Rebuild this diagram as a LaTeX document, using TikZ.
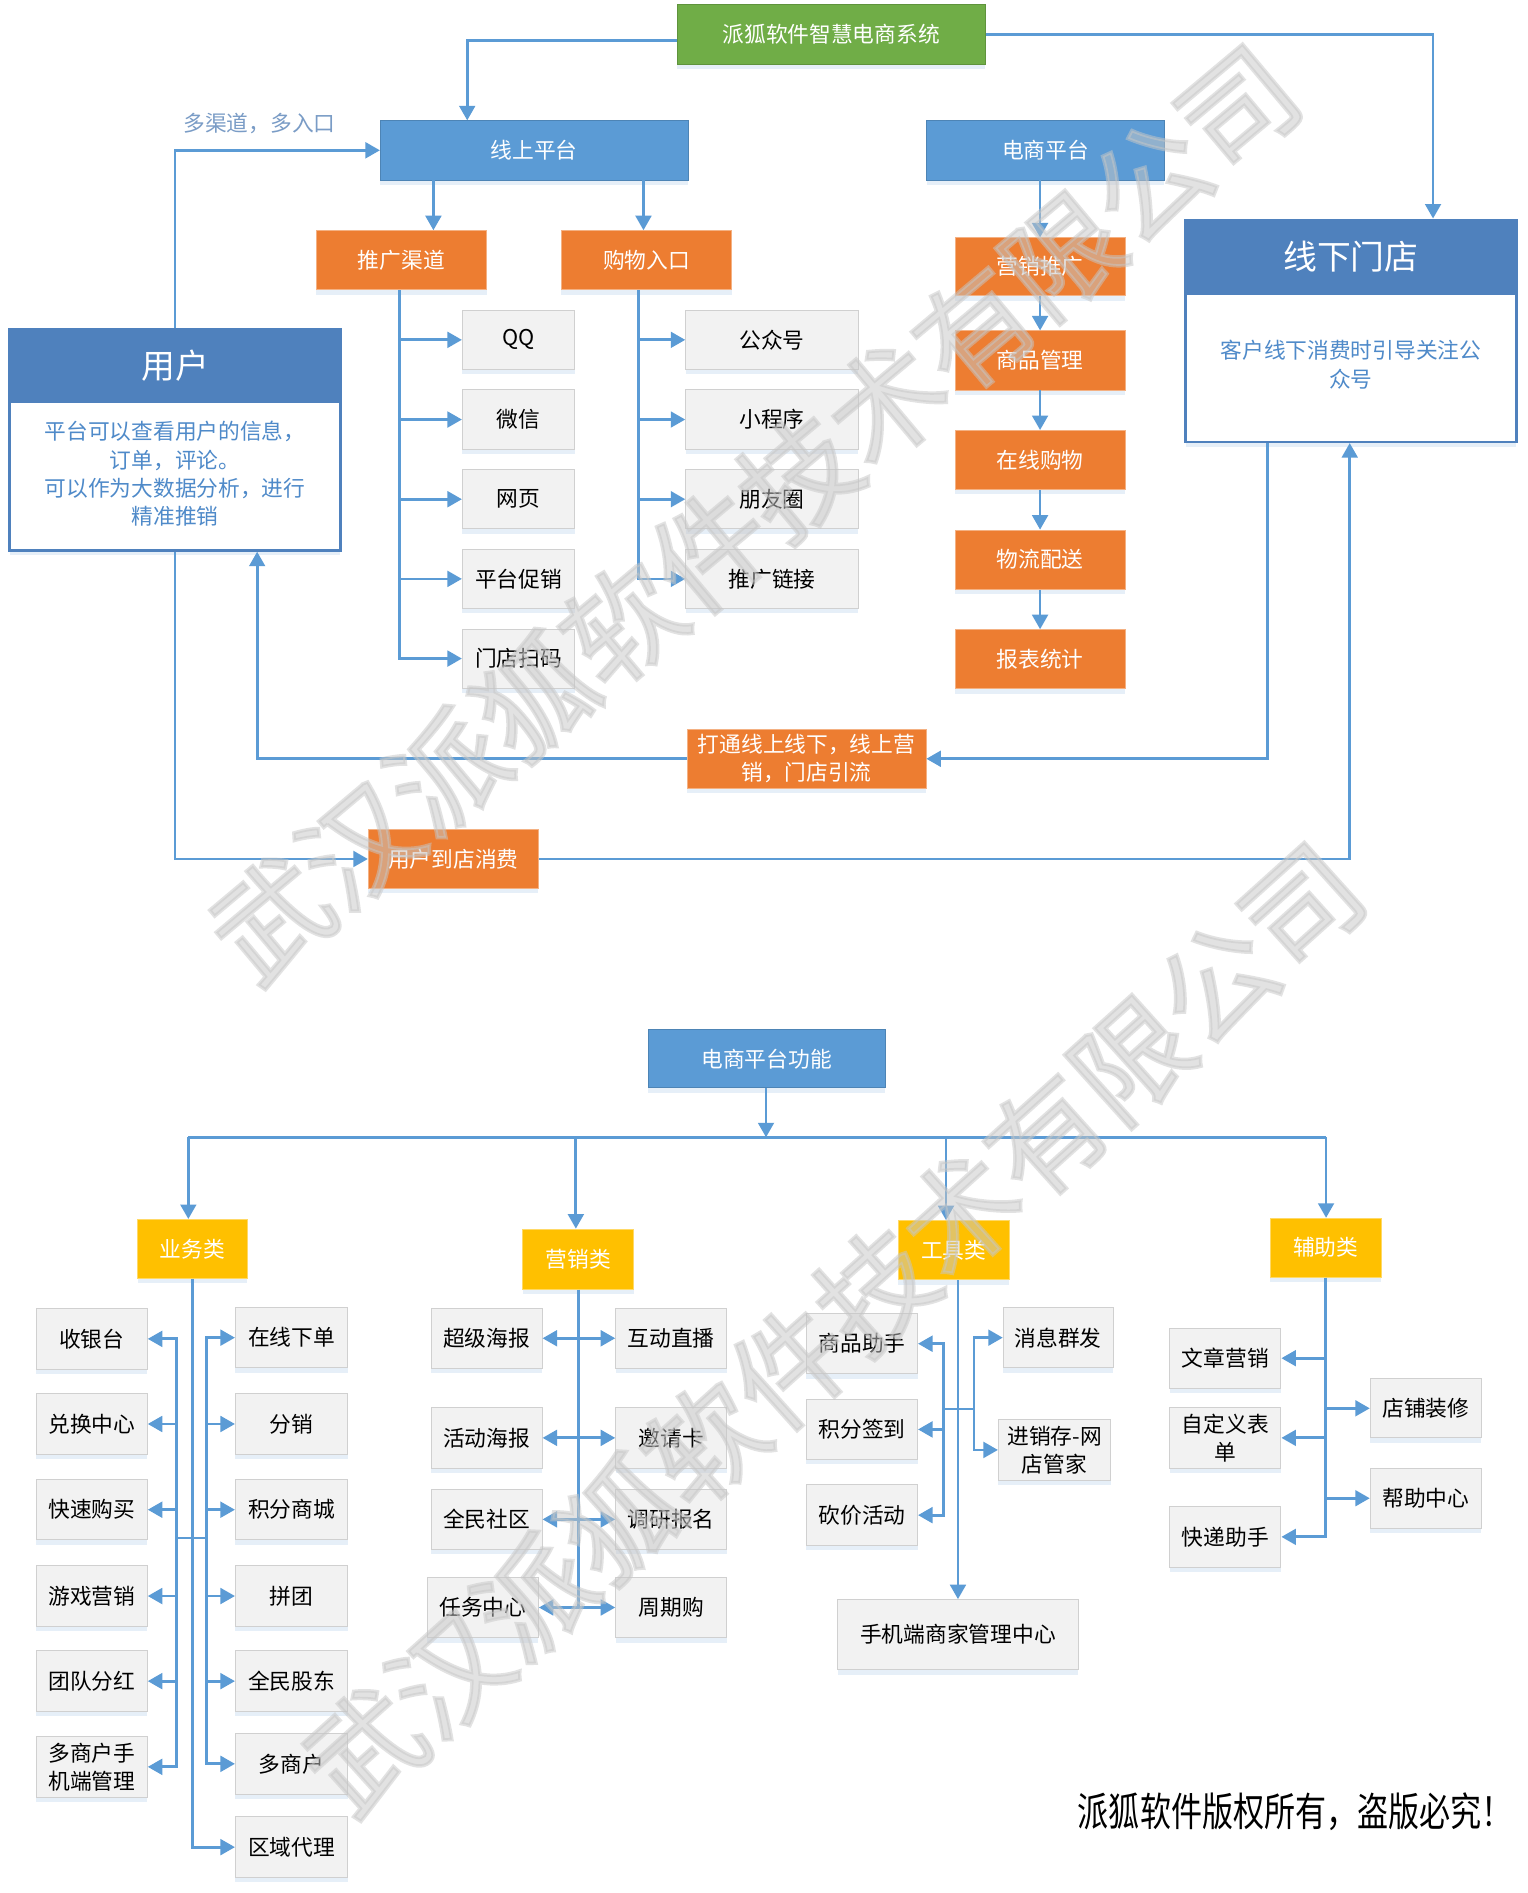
\documentclass[tikz,border=0pt]{standalone}
\usepackage{fontspec}
\setmainfont{Noto Sans CJK SC}
\newfontfamily\wmfont[FakeBold=3]{Noto Sans CJK SC}
\usetikzlibrary{arrows.meta,shadows,calc}
\definecolor{lineblue}{HTML}{5B9BD5}
\definecolor{boxblue}{HTML}{5B9BD5}
\definecolor{hdrblue}{HTML}{4F81BD}
\definecolor{txtblue}{HTML}{4F8AC9}
\definecolor{boxgreen}{HTML}{70AD47}
\definecolor{boxorange}{HTML}{ED7D31}
\definecolor{boxyellow}{HTML}{FFC000}
\definecolor{boxgray}{HTML}{F2F2F2}
\definecolor{bordergray}{HTML}{D0D0D0}
\definecolor{lblgray}{HTML}{7A9CC6}
\tikzset{
  wh/.style 2 args={minimum width=#1pt,minimum height=#2pt},
  shad/.style={drop shadow={shadow xshift=0pt,shadow yshift=-4pt,opacity=0.25,fill=lineblue!60}},
  base/.style={inner sep=0pt,align=center,font=\fontsize{18}{23}\selectfont,shad},
  bluebox/.style={base,fill=boxblue,text=white,draw=boxblue!85!black,line width=0.6pt},
  greenbox/.style={base,fill=boxgreen,text=white,draw=boxgreen!85!black,line width=0.6pt},
  orangebox/.style={base,fill=boxorange,text=white,draw=boxorange!60!white,line width=0.6pt},
  yellowbox/.style={base,fill=boxyellow,text=white,draw=boxyellow!60!white,line width=0.6pt},
  graybox/.style={base,fill=boxgray,text=black,draw=bordergray,line width=0.8pt},
  panel/.style={inner sep=0pt,fill=white,draw=hdrblue,line width=2pt,shad},
  hdr/.style={inner sep=0pt,fill=hdrblue,draw=hdrblue,line width=2pt,text=white,font=\fontsize{28}{32}\selectfont},
  bodytxt/.style={inner sep=0pt,align=center,text=txtblue,font=\fontsize{18}{23.5}\selectfont},
  lbl/.style={inner sep=0pt,text=lblgray,font=\fontsize{18}{22}\selectfont},
  ln/.style={draw=lineblue,line width=2.3pt},
  arr/.style={draw=lineblue,line width=2.3pt,-{Triangle[length=12pt,width=13pt]}},
  wm/.style={inner sep=0pt,font=\wmfont\fontsize{95}{95}\selectfont,text=black!22,opacity=0.5}
}
\begin{document}
\begin{tikzpicture}[x=1pt,y=-1pt]
\fill[white] (0,0) rectangle (1265,1568);
\useasboundingbox (0,0) rectangle (1265,1568);

% ---------------- top part ----------------
\node[greenbox,wh={255}{49}] (sys) at (688.5,28.5) {派狐软件智慧电商系统};
\node[bluebox,wh={255}{49}] (online) at (442.5,124.5) {线上平台};
\node[bluebox,wh={197}{49}] (ecp) at (866,124.5) {电商平台};
\node[orangebox,wh={141}{49}] (tg) at (332.5,215.5) {推广渠道};
\node[orangebox,wh={141}{49}] (gw) at (535.5,215.5) {购物入口};

\node[graybox,wh={93}{49}] (qq) at (429.5,281.5) {QQ};
\node[graybox,wh={93}{49}] (wx) at (429.5,347.5) {微信};
\node[graybox,wh={93}{49}] (wy) at (429.5,413.5) {网页};
\node[graybox,wh={93}{49}] (ptcx) at (429.5,479.5) {平台促销};
\node[graybox,wh={93}{49}] (mdsm) at (429.5,545.5) {门店扫码};

\node[graybox,wh={143}{49}] (gzh) at (639.5,281.5) {公众号};
\node[graybox,wh={143}{49}] (xcx) at (639.5,347.5) {小程序};
\node[graybox,wh={143}{49}] (pyq) at (639.5,413.5) {朋友圈};
\node[graybox,wh={143}{49}] (tglj) at (639.5,479.5) {推广链接};

\node[orangebox,wh={141}{48}] (yxtg) at (861.5,221) {营销推广};
\node[orangebox,wh={141}{49}] (spgl) at (861.5,298.5) {商品管理};
\node[orangebox,wh={141}{49}] (zxgw) at (861.5,381) {在线购物};
\node[orangebox,wh={141}{49}] (wlps) at (861.5,463.5) {物流配送};
\node[orangebox,wh={141}{49}] (bbtj) at (861.5,546) {报表统计};

\node[panel,wh={274}{183}] (user) at (145,364.5) {};
\node[hdr,wh={274}{60},anchor=north] (userh) at (user.north) {用户};
\node[bodytxt] (userb) at (145,392.5) {平台可以查看用户的信息，\\订单，评论。\\可以作为大数据分析，进行\\精准推销};

\node[panel,wh={274}{184}] (store) at (1119,274) {};
\node[hdr,wh={274}{61},anchor=north] (storeh) at (store.north) {线下门店};
\node[bodytxt] (storeb) at (1119,302) {客户线下消费时引导关注公\\众号};

\node[orangebox,wh={198}{49}] (dt) at (668,628.5) {打通线上线下，线上营\\销，门店引流};
\node[orangebox,wh={141}{49}] (ddxf) at (375.5,711.5) {用户到店消费};
\node[lbl] (lab) at (215,102) {多渠道，多入口};

\draw[arr] ([yshift=-5pt]sys.west) -| (online.north -| 387,0);
\draw[arr] (sys.east) -| (store.north -| 1187,0);
\draw[arr] (user.north) |- (online.west);
\draw[arr] (online.south -| 359,0) -- (tg.north -| 359,0);
\draw[arr] (online.south -| 533,0) -- (gw.north -| 533,0);
\foreach \n in {qq,wx,wy,ptcx,mdsm} \draw[arr] (tg.south -| 331,0) |- (\n.west);
\foreach \n in {gzh,xcx,pyq,tglj} \draw[arr] (gw.south -| 529,0) |- (\n.west);
\draw[arr] (ecp.south -| 861.5,0) -- (yxtg.north);
\draw[arr] (yxtg.south) -- (spgl.north);
\draw[arr] (spgl.south) -- (zxgw.north);
\draw[arr] (zxgw.south) -- (wlps.north);
\draw[arr] (wlps.south) -- (bbtj.north);
\draw[arr] (user.south) |- (ddxf.west);
\draw[arr] (ddxf.east) -| (store.south -| 1118,0);
\draw[arr] (store.south -| 1050,0) |- (dt.east);
\draw[arr] (dt.west) -| (user.south -| 213,0);

% ---------------- bottom part ----------------
\node[bluebox,wh={196}{48}] (func) at (635,877) {电商平台功能};
\node[yellowbox,wh={91}{49}] (yw) at (159.5,1034.5) {业务类};
\node[yellowbox,wh={92}{50}] (yx) at (479,1043) {营销类};
\node[yellowbox,wh={92}{49}] (gj) at (790,1035.5) {工具类};
\node[yellowbox,wh={92}{49}] (fz) at (1098,1033.5) {辅助类};

\coordinate (busA) at (156,942);
\coordinate (busB) at (477,942);
\coordinate (busC) at (783.6,942);
\coordinate (busD) at (1098.4,942);
\coordinate (busM) at (634.5,942);
\draw[ln] (busA) -- (busD);
\draw[arr] (func.south -| busM) -- (busM);
\draw[arr] (busA) -- (busA |- yw.north);
\draw[arr] (busB) -- (busB |- yx.north);
\draw[arr] (busC) -- (busC |- gj.north);
\draw[arr] (busD) -- (busD |- fz.north);

% 业务类
\node[graybox,wh={92}{50}] (syt) at (76,1109) {收银台};
\node[graybox,wh={92}{50}] (dhzx) at (76,1179.5) {兑换中心};
\node[graybox,wh={92}{50}] (ksgm) at (76,1250.5) {快速购买};
\node[graybox,wh={92}{50}] (yxyx) at (76,1322) {游戏营销};
\node[graybox,wh={92}{50}] (tdfh) at (76,1392.5) {团队分红};
\node[graybox,wh={92}{51}] (dshsj) at (76,1463.5) {多商户手\\机端管理};
\node[graybox,wh={93}{50}] (zxxd) at (241.5,1108) {在线下单};
\node[graybox,wh={93}{50}] (fx) at (241.5,1179.5) {分销};
\node[graybox,wh={93}{50}] (jfsc) at (241.5,1250.5) {积分商城};
\node[graybox,wh={93}{50}] (pt) at (241.5,1322) {拼团};
\node[graybox,wh={93}{50}] (qmgd) at (241.5,1392.5) {全民股东};
\node[graybox,wh={93}{50}] (dsh) at (241.5,1461) {多商户};
\node[graybox,wh={93}{50}] (qydl) at (241.5,1530) {区域代理};
\coordinate (ywL) at (146,1274);
\coordinate (ywR) at (171,1274);
\draw[ln] (ywL) -- (ywR);
\draw[arr] (yw.south) |- (qydl.west);
\foreach \n in {syt,dhzx,ksgm,yxyx,tdfh,dshsj} \draw[arr] (ywL) |- (\n.east);
\foreach \n in {zxxd,fx,jfsc,pt,qmgd,dsh} \draw[arr] (ywR) |- (\n.west);

% 营销类
\node[graybox,wh={92}{50}] (cjhb) at (403,1108.5) {超级海报};
\node[graybox,wh={92}{50}] (hdhb) at (403,1191) {活动海报};
\node[graybox,wh={92}{50}] (qmsq) at (403,1258.5) {全民社区};
\node[graybox,wh={92}{50}] (rwzx) at (400,1331.5) {任务中心};
\node[graybox,wh={92}{50}] (hdzb) at (556,1108.5) {互动直播};
\node[graybox,wh={92}{50}] (yqk) at (556,1191) {邀请卡};
\node[graybox,wh={92}{50}] (dybm) at (556,1258.5) {调研报名};
\node[graybox,wh={92}{50}] (zqg) at (556,1331.5) {周期购};
\draw[ln] (yx.south) -- (yx.south |- rwzx.east);
\foreach \n in {cjhb,hdhb,qmsq,rwzx} \draw[arr] (yx.south |- \n.east) -- (\n.east);
\foreach \n in {hdzb,yqk,dybm,zqg} \draw[arr] (yx.south |- \n.west) -- (\n.west);

% 工具类
\node[graybox,wh={92}{50}] (spzs) at (714,1113) {商品助手};
\node[graybox,wh={92}{50}] (jfqd) at (714,1184) {积分签到};
\node[graybox,wh={92}{50}] (kjhd) at (714,1255) {砍价活动};
\node[graybox,wh={91}{50}] (xxqf) at (876.5,1108) {消息群发};
\node[graybox,wh={93}{50}] (jxc) at (873.5,1201) {进销存-网\\店管家};
\node[graybox,wh={199}{58}] (sjd) at (793.5,1354) {手机端商家管理中心};
\coordinate (gjL) at (781.6,1167);
\coordinate (gjR) at (806.7,1167);
\draw[ln] (gjL) -- (gjR);
\draw[arr] (sjd.north |- gj.south) -- (sjd.north);
\foreach \n in {spzs,jfqd,kjhd} \draw[arr] (gjL) |- (\n.east);
\foreach \n in {xxqf,jxc} \draw[arr] (gjR) |- (\n.west);

% 辅助类
\node[graybox,wh={92}{50}] (wzyx) at (1015,1125) {文章营销};
\node[graybox,wh={92}{50}] (zdy) at (1015,1191) {自定义表\\单};
\node[graybox,wh={92}{50}] (kdzs) at (1015,1273) {快递助手};
\node[graybox,wh={92}{49}] (dpzx) at (1181,1166.5) {店铺装修};
\node[graybox,wh={92}{50}] (bzzx) at (1181,1241) {帮助中心};
\draw[arr] (fz.south) |- (kdzs.east);
\foreach \n in {wzyx,zdy} \draw[arr] (fz.south |- \n.east) -- (\n.east);
\foreach \n in {dpzx,bzzx} \draw[arr] (fz.south |- \n.west) -- (\n.west);

\node[inner sep=0pt,font=\fontsize{33}{33}\selectfont,xscale=0.78,transform shape] (cr) at (1073,1501) {派狐软件版权所有，盗版必究！};

% watermarks
\node[wm,rotate=40] (wm1) at (625,425) {武汉派狐软件技术有限公司};
\node[wm,rotate=42] (wm2) at (690,1100) {武汉派狐软件技术有限公司};
\end{tikzpicture}
\end{document}
